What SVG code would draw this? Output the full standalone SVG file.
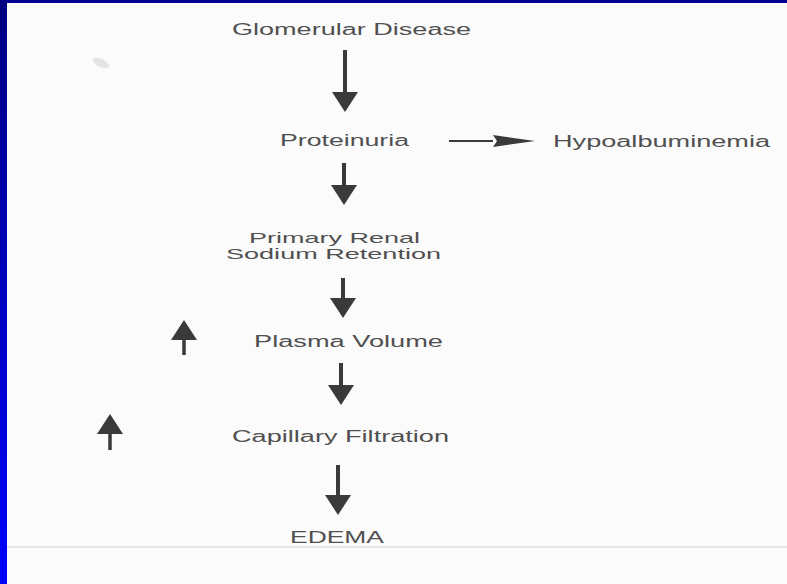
<svg xmlns="http://www.w3.org/2000/svg" width="787" height="584" viewBox="0 0 787 584">
  <defs>
    <linearGradient id="sideBar" x1="0" y1="0" x2="0" y2="1">
      <stop offset="0" stop-color="#000080"/>
      <stop offset="1" stop-color="#0000ff"/>
    </linearGradient>
    <marker id="headBig" viewBox="0 0 20 26" refX="0" refY="13" markerWidth="20" markerHeight="26" markerUnits="userSpaceOnUse" orient="auto">
      <path d="M0,0 L20,13 L0,26 Z" fill="#3a3a3a"/>
    </marker>
    <marker id="headSlim" viewBox="0 0 42 12" refX="0" refY="6" markerWidth="42" markerHeight="12" markerUnits="userSpaceOnUse" orient="auto">
      <path d="M0,0 L42,6 L0,12 L4,6 Z" fill="#3a3a3a"/>
    </marker>
    <style>
      .lbl { font-family: "Liberation Sans", Arial, sans-serif; font-size: 16px; fill: #505050; }
      .sm { font-size: 14.5px; }
      .conn { stroke: #3a3a3a; stroke-width: 4; fill: none; marker-end: url(#headBig); }
      .thin { stroke: #3a3a3a; stroke-width: 2; fill: none; marker-end: url(#headSlim); }
    </style>
  </defs>

  <!-- background -->
  <rect x="0" y="0" width="787" height="584" fill="#fbfbfb"/>
  <rect x="0" y="0" width="787" height="3" fill="#000090"/>
  <rect x="0" y="0" width="7" height="584" fill="url(#sideBar)"/>
  <line x1="7" y1="547" x2="787" y2="547" stroke="#d0d0d0" stroke-width="1"/>
  <ellipse cx="101" cy="63" rx="9" ry="4" fill="#e4e4e4" transform="rotate(25 101 63)"/>

  <g id="glomerular-disease">
    <text class="lbl" x="232" y="35" textLength="239" lengthAdjust="spacingAndGlyphs">Glomerular Disease</text>
  </g>
  <g id="proteinuria">
    <text class="lbl" x="280" y="146" textLength="129" lengthAdjust="spacingAndGlyphs">Proteinuria</text>
  </g>
  <g id="hypoalbuminemia">
    <text class="lbl" x="553" y="147" textLength="217" lengthAdjust="spacingAndGlyphs">Hypoalbuminemia</text>
  </g>
  <g id="primary-renal-sodium-retention">
    <text class="lbl sm" x="249" y="243" textLength="171" lengthAdjust="spacingAndGlyphs">Primary Renal</text>
    <text class="lbl sm" x="226" y="259" textLength="215" lengthAdjust="spacingAndGlyphs">Sodium Retention</text>
  </g>
  <g id="plasma-volume">
    <text class="lbl" x="254" y="347" textLength="189" lengthAdjust="spacingAndGlyphs">Plasma Volume</text>
  </g>
  <g id="capillary-filtration">
    <text class="lbl" x="232" y="442" textLength="217" lengthAdjust="spacingAndGlyphs">Capillary Filtration</text>
  </g>
  <g id="edema">
    <text class="lbl" x="290" y="543" textLength="94" lengthAdjust="spacingAndGlyphs">EDEMA</text>
  </g>

  <g id="connectors">
    <line class="conn" x1="345" y1="50" x2="345" y2="92"/>
    <line class="thin" x1="449" y1="141" x2="493" y2="141"/>
    <line class="conn" x1="344" y1="163" x2="344" y2="185"/>
    <line class="conn" x1="343" y1="278" x2="343" y2="298"/>
    <line class="conn" x1="341" y1="363" x2="341" y2="385"/>
    <line class="conn" x1="338" y1="465" x2="338" y2="495"/>
    <line class="conn" x1="184" y1="355" x2="184" y2="340" style="stroke-width:3.5"/>
    <line class="conn" x1="110" y1="450" x2="110" y2="434" style="stroke-width:3.5"/>
  </g>
</svg>
